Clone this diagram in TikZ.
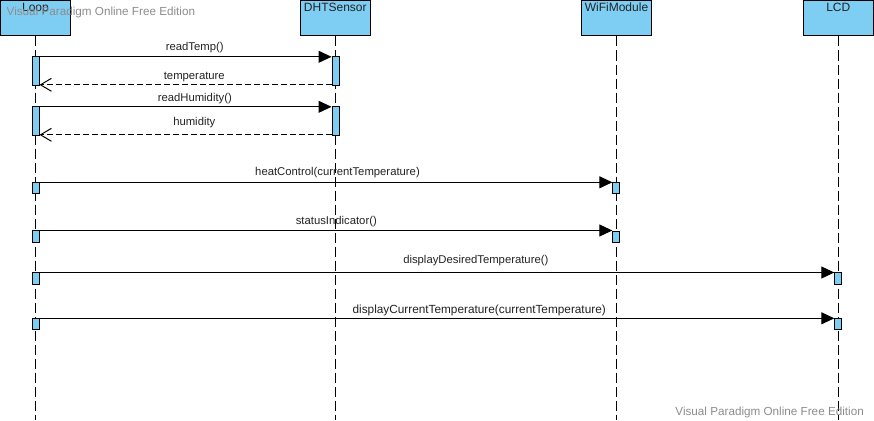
\documentclass[tikz,border=0pt]{standalone}
\usepackage{fontspec}
\setmainfont{Liberation Sans}
\usetikzlibrary{arrows.meta}
\definecolor{actblue}{HTML}{7ECEF4}
\definecolor{wm}{HTML}{8C8C8C}
\definecolor{txt}{HTML}{222222}
\tikzset{
  head/.style={draw=black, fill=actblue, line width=1pt, anchor=north,
    minimum width=70pt, inner xsep=0pt, inner ysep=0pt,
    text height=10.5pt, text depth=24.5pt, font=\fontsize{12}{14}\selectfont, text=txt},
  life/.style={line width=1pt, dash pattern=on 10pt off 4pt},
  actbox/.style={draw=black, fill=actblue, line width=1pt, anchor=north,
    minimum width=7pt, inner sep=0pt},
  call/.style={line width=1pt, -{Triangle[length=13pt,width=12pt]}},
  ret/.style={line width=1pt, dash pattern=on 6pt off 3pt,
    -{Straight Barb[length=11pt,width=13pt,line width=1pt]}},
  msg/.style={font=\fontsize{11.3}{13}\selectfont, text=txt, anchor=base, inner sep=0pt},
  wmark/.style={font=\fontsize{11.7}{14}\selectfont, text=wm, inner sep=0pt, anchor=base west}
}
\begin{document}
\begin{tikzpicture}[x=1pt,y=-1pt]
\useasboundingbox (0,0) rectangle (874,420);
% headers
\node[head] (loop) at (35.5,0.5) {Loop};
\node[head] (dht) at (335.3,0.5) {DHTSensor};
\node[head] (wifi) at (616.5,0.5) {WiFiModule};
\node[head] (lcd) at (838.3,0.5) {LCD};
% lifeline ends
\coordinate (loopEnd) at (35.5,420);
\coordinate (dhtEnd) at (335.3,420);
\coordinate (wifiEnd) at (616.5,420);
\coordinate (lcdEnd) at (838.3,420);
\draw[life] (loop.south) -- (loopEnd);
\draw[life] (dht.south) -- (dhtEnd);
\draw[life] (wifi.south) -- (wifiEnd);
\draw[life] (lcd.south) -- (lcdEnd);
% activations
\node[actbox, minimum height=29pt] (la1) at (35.5,55.8) {};
\node[actbox, minimum height=29pt] (la2) at (35.5,105.8) {};
\node[actbox, minimum height=11.5pt] (la3) at (35.5,181.8) {};
\node[actbox, minimum height=11.5pt] (la4) at (35.5,230.2) {};
\node[actbox, minimum height=11.5pt] (la5) at (35.5,272.2) {};
\node[actbox, minimum height=11.5pt] (la6) at (35.5,317.8) {};
\node[actbox, minimum height=29pt] (da1) at (335.5,55.8) {};
\node[actbox, minimum height=29pt] (da2) at (335.5,105.8) {};
\node[actbox, minimum height=11.5pt] (wa1) at (616.3,181.8) {};
\node[actbox, minimum height=11.5pt] (wa2) at (616.3,230.8) {};
\node[actbox, minimum height=11.5pt] (ca1) at (838.3,272.2) {};
\node[actbox, minimum height=11.5pt] (ca2) at (838.3,317.8) {};
% messages
\draw[call] ([yshift=-1pt]la1.north east) -- ([yshift=-1pt]da1.north west);
\draw[ret] ([yshift=1pt]da1.south west) -- ([yshift=1pt]la1.south east);
\draw[call] ([yshift=-1pt]la2.north east) -- ([yshift=-1pt]da2.north west);
\draw[ret] ([yshift=1pt]da2.south west) -- ([yshift=1pt]la2.south east);
\draw[call] ([yshift=-0.5pt]la3.north east) -- ([yshift=-0.5pt]wa1.north west);
\draw[call] ([yshift=-0.3pt]la4.north east) -- ([yshift=-0.3pt]la4.north east -| wa2.west);
\draw[call] ([yshift=-0.3pt]la5.north east) -- ([yshift=-0.3pt]ca1.north west);
\draw[call] ([yshift=-0.5pt]la6.north east) -- ([yshift=-0.5pt]ca2.north west);
% labels
\node[msg] (l1) at (194.7,51) {readTemp()};
\node[msg] (l2) at (194.3,79.3) {temperature};
\node[msg] (l3) at (194.8,101.5) {readHumidity()};
\node[msg] (l4) at (194.3,125.7) {humidity};
\node[msg] (l5) at (337.5,175) {heatControl(currentTemperature)};
\node[msg] (l6) at (336.3,224) {statusIndicator()};
\node[msg] (l7) at (475.8,263.5) {displayDesiredTemperature()};
\node[msg, font=\fontsize{11.8}{13}\selectfont] (l8) at (479.2,313.3) {displayCurrentTemperature(currentTemperature)};
% watermarks
\node[wmark] (wm1) at (6.5,16) {Visual Paradigm Online Free Edition};
\node[wmark, anchor=base east] (wm2) at (864,415.5) {Visual Paradigm Online Free Edition};
\end{tikzpicture}
\end{document}
